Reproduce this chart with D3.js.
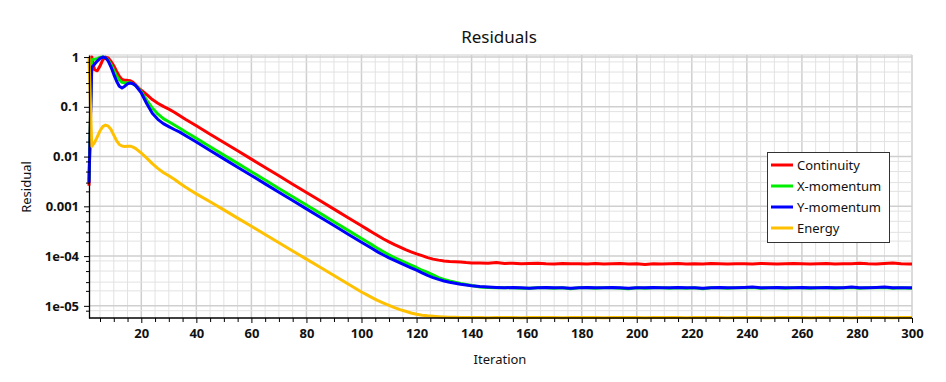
<!DOCTYPE html>
<html><head><meta charset="utf-8">
<script src="https://cdn.jsdelivr.net/npm/d3@7"></script>
<style>body{margin:0;background:#fff} svg{display:block}</style>
</head><body><svg id="c" width="946" height="382"></svg>
<script>
const iterations = [1,2,3,4,5,6,7,8,9,10,11,12,13,14,15,16,17,18,19,20,
22,24,26,28,30,32,34,36,38,40,
45,50,55,60,65,70,75,80,85,90,95,100,
102,104,106,108,110,112,114,116,118,120,122,124,126,128,130,132,134,136,138,140,
143,146,149,152,155,158,161,164,167,170,173,176,179,182,185,188,191,194,197,200,203,206,209,212,215,218,221,224,227,230,233,236,239,242,245,248,251,254,257,260,263,266,269,272,275,278,281,284,287,290,293,296,299,300];

const continuity = [0.0026,1.0,0.56,0.53,0.66,0.88,1.0,0.96,0.82,0.67,0.52,0.41,0.355,0.34,0.34,0.335,0.31,0.275,0.24,0.215,
0.175,0.14,0.118,0.102,0.09,0.078,0.066,0.0562,0.0484,0.0417,
0.0282,0.0192,0.0131,0.00889,0.00604,0.00411,0.00279,0.0019,0.00129,8.79e-4,5.97e-4,4.06e-4,
3.48e-4,2.99e-4,2.57e-4,2.21e-4,1.93e-4,1.70e-4,1.51e-4,1.35e-4,1.22e-4,1.11e-4,1.02e-4,9.3e-5,8.7e-5,8.3e-5,8.0e-5,7.8e-5,7.7e-5,7.6e-5,7.4e-5,7.3e-5,
7.3e-5,7.2e-5,7.4e-5,7.1e-5,7.2e-5,7.0e-5,7.1e-5,7.2e-5,7.0e-5,6.9e-5,7.1e-5,7.0e-5,7.0e-5,6.9e-5,7.1e-5,6.9e-5,7.0e-5,7.1e-5,6.9e-5,7.0e-5,
6.8e-5,7.0e-5,6.9e-5,7.0e-5,7.1e-5,6.9e-5,7.0e-5,6.9e-5,7.1e-5,7.0e-5,6.9e-5,7.0e-5,7.0e-5,6.9e-5,7.1e-5,7.0e-5,6.9e-5,7.0e-5,7.1e-5,7.0e-5,
6.9e-5,7.0e-5,7.1e-5,6.9e-5,7.0e-5,7.0e-5,7.2e-5,7.0e-5,6.9e-5,7.1e-5,7.3e-5,7.0e-5,6.9e-5,6.9e-5];

const xMomentum = [0.0034,0.88,0.9,0.93,0.98,1.0,0.97,0.86,0.7,0.54,0.42,0.35,0.31,0.30,0.305,0.305,0.29,0.265,0.235,0.2,
0.135,0.095,0.072,0.058,0.05,0.043,0.037,0.0316,0.0271,0.0232,
0.0158,0.0107,0.0073,0.00495,0.00337,0.00229,0.00156,0.00106,7.21e-4,4.9e-4,3.33e-4,2.26e-4,
1.94e-4,1.66e-4,1.41e-4,1.22e-4,1.06e-4,9.3e-5,8.3e-5,7.4e-5,6.6e-5,5.9e-5,5.2e-5,4.7e-5,4.2e-5,3.7e-5,3.4e-5,3.16e-5,2.99e-5,2.82e-5,2.69e-5,2.57e-5,
2.4e-5,2.35e-5,2.3e-5,2.3e-5,2.3e-5,2.25e-5,2.25e-5,2.3e-5,2.3e-5,2.25e-5,2.3e-5,2.2e-5,2.3e-5,2.3e-5,2.25e-5,2.3e-5,2.3e-5,2.25e-5,2.2e-5,2.3e-5,
2.25e-5,2.3e-5,2.3e-5,2.25e-5,2.3e-5,2.25e-5,2.3e-5,2.2e-5,2.3e-5,2.3e-5,2.25e-5,2.3e-5,2.3e-5,2.35e-5,2.25e-5,2.3e-5,2.3e-5,2.25e-5,2.3e-5,2.3e-5,
2.25e-5,2.3e-5,2.3e-5,2.25e-5,2.3e-5,2.35e-5,2.25e-5,2.3e-5,2.3e-5,2.35e-5,2.25e-5,2.3e-5,2.25e-5,2.25e-5];

const yMomentum = [0.003,0.62,0.72,0.83,0.94,1.0,0.97,0.83,0.63,0.45,0.33,0.26,0.24,0.26,0.29,0.30,0.29,0.265,0.225,0.19,
0.115,0.074,0.056,0.046,0.04,0.035,0.031,0.0266,0.0229,0.0197,
0.0132,0.009,0.00611,0.00416,0.00283,0.00192,0.00131,8.89e-4,6.04e-4,4.11e-4,2.79e-4,1.9e-4,
1.63e-4,1.40e-4,1.20e-4,1.05e-4,9.2e-5,8.2e-5,7.3e-5,6.5e-5,5.8e-5,5.2e-5,4.6e-5,4.1e-5,3.7e-5,3.4e-5,3.16e-5,2.99e-5,2.85e-5,2.72e-5,2.63e-5,2.54e-5,
2.45e-5,2.4e-5,2.35e-5,2.3e-5,2.35e-5,2.3e-5,2.25e-5,2.3e-5,2.35e-5,2.3e-5,2.3e-5,2.25e-5,2.3e-5,2.35e-5,2.3e-5,2.3e-5,2.35e-5,2.3e-5,2.25e-5,2.3e-5,
2.3e-5,2.35e-5,2.3e-5,2.3e-5,2.35e-5,2.3e-5,2.3e-5,2.25e-5,2.3e-5,2.35e-5,2.3e-5,2.3e-5,2.35e-5,2.4e-5,2.3e-5,2.3e-5,2.35e-5,2.3e-5,2.3e-5,2.35e-5,
2.3e-5,2.3e-5,2.35e-5,2.3e-5,2.3e-5,2.4e-5,2.3e-5,2.3e-5,2.35e-5,2.4e-5,2.3e-5,2.3e-5,2.3e-5,2.3e-5];

const energy = [1.0,0.016,0.019,0.025,0.033,0.04,0.043,0.041,0.035,0.027,0.021,0.0175,0.0163,0.016,0.0162,0.0162,0.0155,0.0145,0.013,0.0118,
0.0093,0.0072,0.0058,0.0048,0.0041,0.0035,0.0029,0.00245,0.00209,0.00178,
0.00124,8.5e-4,5.8e-4,3.98e-4,2.72e-4,1.86e-4,1.27e-4,8.7e-5,5.96e-5,4.07e-5,2.79e-5,1.9e-5,
1.66e-5,1.45e-5,1.27e-5,1.135e-5,1.02e-5,9.2e-6,8.4e-6,7.8e-6,7.2e-6,6.8e-6,6.5e-6,6.3e-6,6.17e-6,6.05e-6,5.96e-6,5.9e-6,5.88e-6,5.85e-6,5.83e-6,5.82e-6,
5.8e-6,5.79e-6,5.8e-6,5.81e-6,5.8e-6,5.79e-6,5.8e-6,5.8e-6,5.81e-6,5.8e-6,5.79e-6,5.8e-6,5.8e-6,5.81e-6,5.8e-6,5.79e-6,5.8e-6,5.8e-6,5.81e-6,5.8e-6,
5.79e-6,5.8e-6,5.8e-6,5.81e-6,5.8e-6,5.79e-6,5.8e-6,5.8e-6,5.81e-6,5.8e-6,5.79e-6,5.8e-6,5.8e-6,5.81e-6,5.8e-6,5.79e-6,5.8e-6,5.8e-6,5.81e-6,5.8e-6,
5.79e-6,5.8e-6,5.8e-6,5.81e-6,5.8e-6,5.79e-6,5.8e-6,5.8e-6,5.81e-6,5.8e-6,5.79e-6,5.8e-6,5.8e-6,5.8e-6];

const seriesNames = ["Continuity","X-momentum","Y-momentum","Energy"];
const seriesValues = [continuity, xMomentum, yMomentum, energy];
const seriesColors = ["#ff0000","#00ee00","#0000ff","#ffc000"];
const xTicks = [20,40,60,80,100,120,140,160,180,200,220,240,260,280,300];
const yTicks = [1,0.1,0.01,0.001,1e-4,1e-5];
const yTickLabels = ["1","0.1","0.01","0.001","1e-04","1e-05"];
const yMinorMantissas = [2,3,5,8];

const svg = d3.select("#c");
const L = 89, R = 912, T = 55, B = 318;
const x = d3.scaleLinear().domain([1,300]).range([L,R]);
const y = d3.scaleLog().domain([5.7e-6,1.1]).range([B,T]);
const font = "'Noto Sans', 'Open Sans', sans-serif";

// grid
const g = svg.append("g");
const vgrid = d3.range(5, 301, 5);
g.selectAll("line.v").data(vgrid).join("line")
  .attr("x1", d=>x(d)).attr("x2", d=>x(d)).attr("y1", T).attr("y2", B)
  .attr("stroke", d => d%20===0 ? "#cfcfcf" : "#e2e2e2").attr("stroke-width", d => d%20===0 ? 1.5 : 1);
const hMinor = [];
for (let e=-6; e<=0; e++) yMinorMantissas.forEach(m => { const v = m*Math.pow(10,e); if (v>=5.7e-6 && v<=1.1) hMinor.push(v); });
g.selectAll("line.hm").data(hMinor).join("line")
  .attr("x1", L).attr("x2", R).attr("y1", d=>y(d)).attr("y2", d=>y(d))
  .attr("stroke", "#e2e2e2").attr("stroke-width", 1);
g.selectAll("line.hM").data(yTicks).join("line")
  .attr("x1", L).attr("x2", R).attr("y1", d=>y(d)).attr("y2", d=>y(d))
  .attr("stroke", "#cfcfcf").attr("stroke-width", 1.5);
g.append("line").attr("x1", L).attr("x2", R).attr("y1", T).attr("y2", T).attr("stroke", "#cfcfcf");

// series
const line = d3.line().x((d,i)=>x(iterations[i])).y(d=>y(d));
seriesValues.forEach((vals, k) => {
  svg.append("path").datum(vals).attr("d", line)
    .attr("fill","none").attr("stroke", seriesColors[k]).attr("stroke-width", 3)
    .attr("stroke-linejoin","round").attr("stroke-linecap","butt");
});

// axes
const xAxis = svg.append("g").attr("transform", `translate(0,${B})`)
  .call(d3.axisBottom(x).tickValues(xTicks).tickSize(5).tickSizeOuter(0).tickFormat(d3.format("d")));
svg.append("g").attr("transform", `translate(0,${B})`)
  .call(d3.axisBottom(x).tickValues(vgrid.filter(d=>d%20!==0)).tickSize(4).tickFormat("")).select(".domain").remove();
const yAxis = svg.append("g").attr("transform", `translate(${L},0)`)
  .call(d3.axisLeft(y).tickValues(yTicks).tickSize(5).tickSizeOuter(0).tickFormat((d,i)=>yTickLabels[i]));
svg.append("g").attr("transform", `translate(${L},0)`)
  .call(d3.axisLeft(y).tickValues(hMinor).tickSize(3).tickFormat("")).select(".domain").remove();
svg.selectAll(".domain").attr("stroke","#000").attr("stroke-width",1.3);
svg.selectAll(".tick line").attr("stroke","#000");
svg.selectAll(".tick text").attr("font-family", font).attr("font-size", 13).attr("font-weight", "bold").attr("fill","#111");
xAxis.selectAll(".tick text").attr("dy", "0.95em");
yAxis.selectAll(".tick text").attr("dx", "-0.15em");
xAxis.select(".domain").attr("d", `M${L},0H${R}`);

// titles
svg.append("text").attr("x", 499).attr("y", 43).attr("text-anchor","middle")
  .attr("font-family", font).attr("font-size", 17).attr("fill","#111").text("Residuals");
svg.append("text").attr("x", 500).attr("y", 364).attr("text-anchor","middle")
  .attr("font-family", font).attr("font-size", 13).attr("fill","#111").text("Iteration");
svg.append("text").attr("transform","translate(31,187) rotate(-90)").attr("text-anchor","middle")
  .attr("font-family", font).attr("font-size", 13).attr("fill","#111").text("Residual");

// legend
const lg = svg.append("g");
lg.append("rect").attr("x", 767.5).attr("y", 152.5).attr("width", 122).attr("height", 90)
  .attr("fill","#fff").attr("stroke","#333").attr("stroke-width",1);
seriesNames.forEach((n,k) => {
  const cy = 165 + k*21;
  lg.append("line").attr("x1", 771).attr("x2", 793).attr("y1", cy).attr("y2", cy)
    .attr("stroke", seriesColors[k]).attr("stroke-width", 3);
  lg.append("text").attr("x", 797).attr("y", cy).attr("dy","0.35em")
    .attr("font-family", font).attr("font-size", 13).attr("fill","#111").text(n);
});
</script></body></html>
